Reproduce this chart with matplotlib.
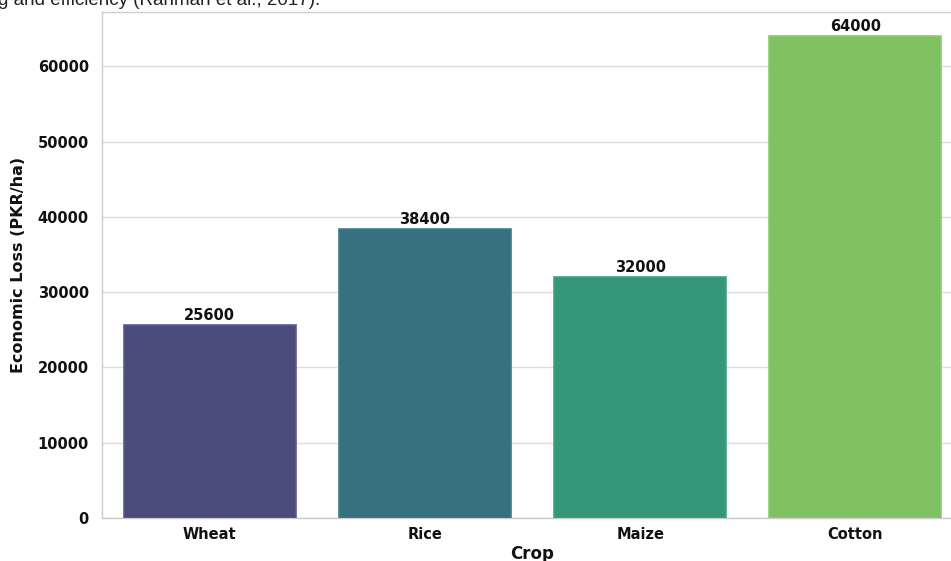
import matplotlib
matplotlib.use("Agg")
import matplotlib.pyplot as plt
import numpy as np

crops = ["Wheat", "Rice", "Maize", "Cotton"]
losses = [25600, 38400, 32000, 64000]
colors = ["#4B4B7C", "#37717F", "#35977A", "#80C262"]
edge_colors = ["#5A5A92", "#3E7D8C", "#3FA385", "#8ACB6C"]
yticks = [0, 10000, 20000, 30000, 40000, 50000, 60000]
caption = "g and efficiency (Rahman et al., 2017)."

plt.rcParams['font.family'] = ['DejaVu Sans']

fig = plt.figure(figsize=(9.51, 5.61), dpi=100)
ax = fig.add_axes([102/951, 43/561, 861/951, 506/561])

x = np.arange(len(crops))
bars = ax.bar(x, losses, width=0.8, color=colors, edgecolor=edge_colors, linewidth=1.2, zorder=3)
for b, v in zip(bars, losses):
    ax.annotate(f"{v}", (b.get_x() + b.get_width()/2, v), xytext=(0, 1.5),
                textcoords="offset points", ha="center", va="bottom",
                fontsize=10.5, fontweight="bold", color="#111111")

ax.set_xlim(-0.5, 3.5)
ax.set_ylim(0, max(losses) * 1.05)
ax.set_xticks(x)
ax.set_xticklabels(crops, fontsize=10.5, fontweight="bold", color="#111111")
ax.set_yticks(yticks)
ax.set_yticklabels([str(t) for t in yticks], fontsize=10.5, fontweight="bold", color="#111111")
ax.tick_params(axis="x", length=0, pad=6.5)
ax.tick_params(axis="y", length=0, pad=9.5)
ax.yaxis.grid(True, color="#dddddd", linewidth=1.0, zorder=0)
ax.set_axisbelow(True)
for s in ax.spines.values():
    s.set_color("#cccccc")
    s.set_linewidth(1.0)
ax.set_xlabel("Crop", fontsize=12, fontweight="bold", labelpad=2, color="#111111")
ax.set_ylabel("Economic Loss (PKR/ha)", fontsize=11.5, fontweight="bold", labelpad=8, color="#111111")

fig.text(-0.002, 1 - 5/561, caption, family=["Liberation Sans", "DejaVu Sans"],
         fontsize=13.5, ha="left", va="baseline", color="#222222")

fig.savefig("out.png", dpi=100)
